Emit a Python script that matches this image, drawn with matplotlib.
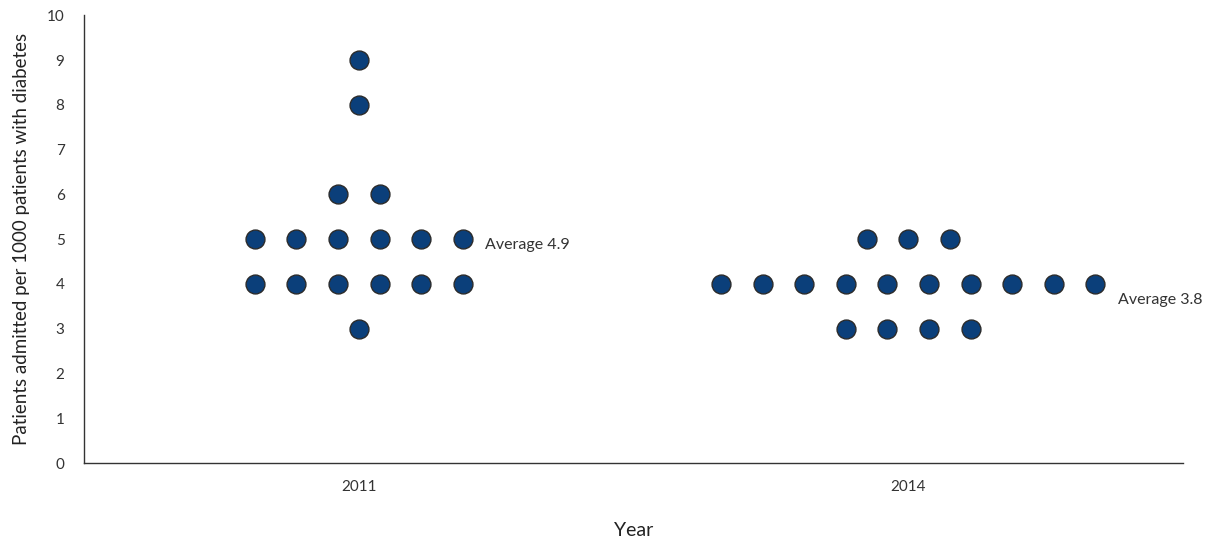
import matplotlib
matplotlib.use('Agg')
from matplotlib import pyplot as plt
import numpy as np

plt.rcParams['font.family'] = ['Lato', 'DejaVu Sans']

# data
years = ['2011', '2014']
values_2011 = [9, 8, 6, 6, 5, 5, 5, 5, 5, 5, 4, 4, 4, 4, 4, 4, 3]
values_2014 = [5, 5, 5, 4, 4, 4, 4, 4, 4, 4, 4, 4, 4, 3, 3, 3, 3]
averages = [4.9, 3.8]
avg_label_y = [4.86, 3.65]

step = 0.0757
dot_color = '#0b3f7a'

fig = plt.figure(1, figsize=(12.14, 5.48), dpi=100)
fig.subplots_adjust(left=0.0692, right=0.9745, top=0.972, bottom=0.155)
ax = fig.add_subplot(111)

for i, vals in enumerate([values_2011, values_2014]):
    vals = np.array(vals)
    xs, ys = [], []
    for v in sorted(set(vals), reverse=True):
        n = (vals == v).sum()
        offs = (np.arange(n) - (n - 1) / 2) * step
        xs.extend(i + offs)
        ys.extend([v] * n)
    ax.scatter(xs, ys, s=185, color=dot_color, edgecolor='#2b2b2b',
               linewidth=1.0, zorder=3)
    ax.annotate('Average %.1f' % averages[i], xy=(max(xs), avg_label_y[i]),
                xytext=(16, 0), textcoords='offset points',
                va='center', ha='left', fontsize=11.5, color='#333333')

ax.set_xlim(-0.5, 1.5)
ax.set_ylim(0, 10)
ax.set_xticks([0, 1])
ax.set_xticklabels(years)
ax.set_yticks(range(0, 11))
ax.tick_params(length=0, labelsize=11, colors='#333333')
ax.tick_params(axis='x', pad=12)
ax.tick_params(axis='y', pad=14)

for s in ['top', 'right']:
    ax.spines[s].set_visible(False)
for s in ['left', 'bottom']:
    ax.spines[s].set_color('#333333')
    ax.spines[s].set_linewidth(1.0)

ax.set_xlabel('Year', fontsize=14, color='#222222', labelpad=20)
ax.set_ylabel('Patients admitted per 1000 patients with diabetes', fontsize=13.5,
              color='#222222', labelpad=12)

fig.savefig('out.png', dpi=100)
